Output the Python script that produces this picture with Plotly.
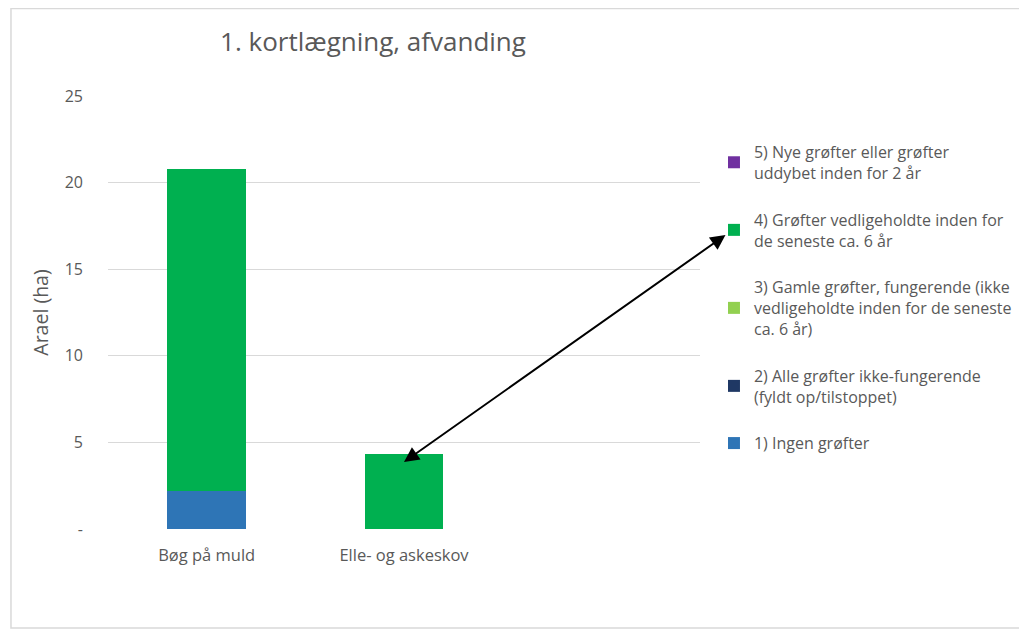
import plotly.graph_objects as go

categories = ["Bøg på muld", "Elle- og askeskov"]
series_names = [
    "1) Ingen grøfter",
    "2) Alle grøfter ikke-fungerende<br>(fyldt op/tilstoppet)",
    "3) Gamle grøfter, fungerende (ikke<br>vedligeholdte inden for de seneste<br>ca. 6 år)",
    "4) Grøfter vedligeholdte inden for<br>de seneste ca. 6 år",
    "5) Nye grøfter eller grøfter<br>uddybet inden for 2 år",
]
series_values = [
    [2.2, 0.0],
    [0.0, 0.0],
    [0.0, 0.0],
    [18.6, 4.35],
    [0.0, 0.0],
]
series_colors = ["#2E75B6", "#1F3864", "#92D050", "#00B050", "#7030A0"]
y_tickvals = [0, 5, 10, 15, 20, 25]
y_ticktext = ["-", "5", "10", "15", "20", "25"]
arrow_tip_value = 3.87

FONT = "Open Sans"
GREY = "#595959"

fig = go.Figure()
n = len(series_names)
for i, (name, vals, col) in enumerate(zip(series_names, series_values, series_colors)):
    fig.add_trace(go.Bar(
        x=categories, y=vals, name=name, marker_color=col,
        marker_line_width=0, legendgroup=name, legendrank=n - i,
    ))

fig.update_layout(
    width=1027, height=632,
    barmode="stack", bargap=0.6,
    paper_bgcolor="white", plot_bgcolor="white",
    margin=dict(l=100, r=335, t=88, b=111),
    font=dict(family=FONT, color=GREY, size=14),
    title=dict(text="1. kortlægning, afvanding", x=0.4476, xref="paper",
               xanchor="center", y=1 - 34 / 632, yref="container",
               yanchor="middle", font=dict(size=26, color=GREY, family=FONT)),
    showlegend=True,
    legend=dict(traceorder="grouped", x=1.0236, xanchor="left",
                y=0.91, yanchor="top", tracegroupgap=23,
                font=dict(size=16, color=GREY, family=FONT),
                bgcolor="rgba(0,0,0,0)"),
    xaxis=dict(range=[-0.5, 2.5], showgrid=False, showline=False,
               ticks="", ticklabelstandoff=14,
               tickfont=dict(size=16.5, color=GREY)),
    yaxis=dict(range=[0, 25], tickvals=y_tickvals, ticktext=y_ticktext,
               showgrid=True, gridcolor="#D9D9D9", gridwidth=1,
               zeroline=False, showline=False, ticks="",
               ticklabelstandoff=24,
               tickfont=dict(size=16, color=GREY),
               title=dict(text="Arael (ha)", font=dict(size=19.5, color=GREY),
                          standoff=10)),
)

fig.add_shape(type="rect", xref="paper", yref="paper",
              x0=-0.1639, x1=1.544, y0=-0.2286, y1=1.202,
              line=dict(color="#D9D9D9", width=1.5), layer="below")

fig.add_annotation(x=categories[1], y=arrow_tip_value, xref="x", yref="y",
                   ax=323, ay=-228, axref="pixel", ayref="pixel",
                   text="", showarrow=True, arrowside="end+start",
                   arrowhead=2, startarrowhead=2, arrowsize=1.5,
                   startarrowsize=1.5, arrowwidth=2, arrowcolor="black",
                   standoff=0, startstandoff=0)

fig.write_html("out.html")
